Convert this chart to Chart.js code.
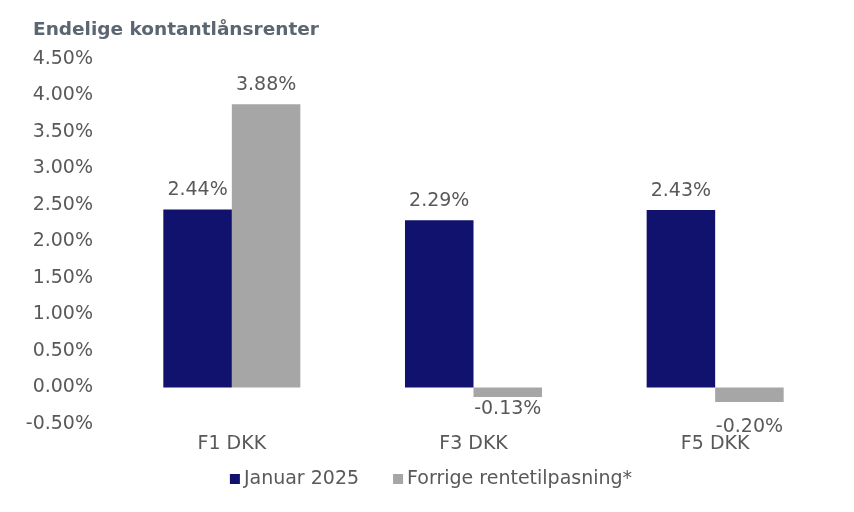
<!DOCTYPE html>
<html>
<head>
<meta charset="utf-8">
<script src="https://cdn.jsdelivr.net/npm/chart.js@4/dist/chart.umd.min.js"></script>
<style>
html,body{margin:0;padding:0;background:#fff;}
#wrap{width:854px;height:512px;}
</style>
</head>
<body>
<div id="wrap"><canvas id="c" width="854" height="512"></canvas></div>
<script>
const chartTitle = 'Endelige kontantlånsrenter';
const categories = ['F1 DKK', 'F3 DKK', 'F5 DKK'];
const seriesNames = ['Januar 2025', 'Forrige rentetilpasning*'];
const januar2025 = [2.44, 2.29, 2.43];
const forrige = [3.88, -0.13, -0.20];
const yMin = -0.5, yMax = 4.5, yStep = 0.5;

const FONT = "'DejaVu Sans', Verdana, sans-serif";
const TEXT = '#595959';

const labelPlugin = {
  id: 'valueLabels',
  afterDatasetsDraw(chart, args, opts) {
    const ctx = chart.ctx;
    ctx.save();
    ctx.font = '19px ' + FONT;
    ctx.fillStyle = TEXT;
    ctx.textAlign = 'center';
    chart.data.datasets.forEach((ds, i) => {
      const meta = chart.getDatasetMeta(i);
      const shifts = (opts.extraShift && opts.extraShift[i]) || [];
      meta.data.forEach((el, j) => {
        const v = ds.data[j];
        const txt = v.toFixed(2) + '%';
        const extra = shifts[j] || 0;
        if (v >= 0) {
          ctx.textBaseline = 'bottom';
          ctx.fillText(txt, el.x, el.y - 10 - extra);
        } else {
          ctx.textBaseline = 'top';
          ctx.fillText(txt, el.x, el.y + 3 + extra);
        }
      });
    });
    ctx.restore();
  },
  afterDraw(chart) {
    const ctx = chart.ctx;
    ctx.save();
    // title
    ctx.font = 'bold 18.5px ' + FONT;
    ctx.fillStyle = '#5b6670';
    ctx.textAlign = 'left';
    ctx.textBaseline = 'middle';
    ctx.fillText(chartTitle, 33, 30);
    // legend
    ctx.font = '19px ' + FONT;
    const box = 10, gap = 4, spacing = 34;
    const items = chart.data.datasets.map(ds => ({ text: ds.label, color: ds.backgroundColor, w: ctx.measureText(ds.label).width }));
    let total = 0;
    items.forEach((it, k) => { total += box + gap + it.w + (k < items.length - 1 ? spacing : 0); });
    let x = 431 - total / 2;
    const cy = 479;
    items.forEach(it => {
      ctx.fillStyle = it.color;
      ctx.fillRect(x, cy - box / 2, box, box);
      ctx.fillStyle = TEXT;
      ctx.fillText(it.text, x + box + gap, cy);
      x += box + gap + it.w + spacing;
    });
    ctx.restore();
  }
};

new Chart(document.getElementById('c'), {
  type: 'bar',
  data: {
    labels: categories,
    datasets: [
      { label: seriesNames[0], data: januar2025, backgroundColor: '#11116e', categoryPercentage: 0.567, barPercentage: 1.0 },
      { label: seriesNames[1], data: forrige, backgroundColor: '#a6a6a6', categoryPercentage: 0.567, barPercentage: 1.0 }
    ]
  },
  options: {
    responsive: false,
    animation: false,
    layout: { padding: { top: 59, right: 18, bottom: 53, left: 0 } },
    plugins: {
      title: { display: false },
      tooltip: { enabled: false },
      valueLabels: { extraShift: [[0, 0, 0], [0, 0, 12]] },
      legend: { display: false }
    },
    scales: {
      x: {
        grid: { display: false, drawTicks: false },
        border: { display: false },
        ticks: { color: TEXT, font: { family: FONT, size: 19 }, padding: 9 },
        afterFit(s) { s.height = 35; }
      },
      y: {
        min: yMin, max: yMax,
        grid: { display: false, drawTicks: false },
        border: { display: false },
        ticks: {
          stepSize: yStep,
          color: TEXT,
          font: { family: FONT, size: 19 },
          padding: 18,
          callback: (v) => Number(v).toFixed(2) + '%'
        },
        afterFit(s) { s.width = 111; }
      }
    }
  },
  plugins: [labelPlugin]
});
</script>
</body>
</html>
